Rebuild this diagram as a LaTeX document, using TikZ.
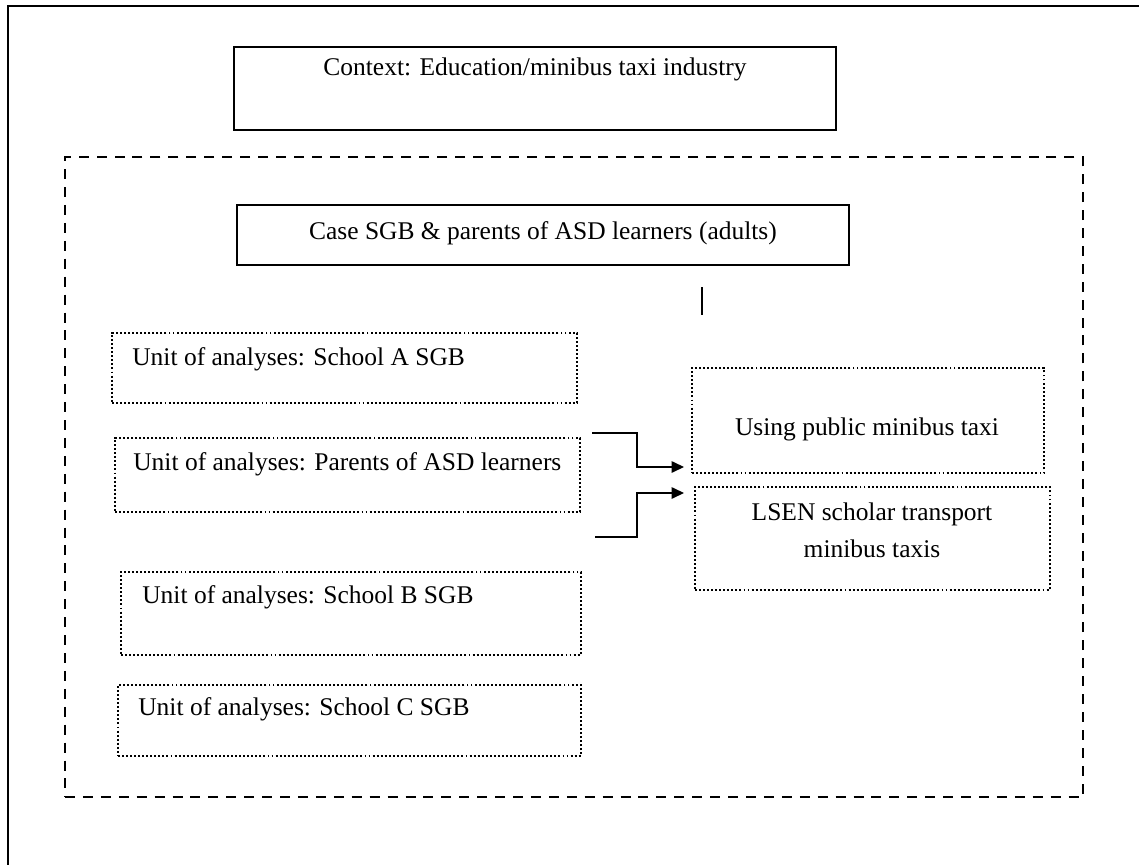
\documentclass[tikz,border=0pt]{standalone}
\usepackage{fontspec}
\setmainfont{Liberation Serif}
\usetikzlibrary{fit,arrows.meta}

\tikzset{
  solidbox/.style={draw, line width=1.3pt, inner sep=0pt},
  dashbox/.style={draw, line width=1.2pt, dash pattern=on 5.7pt off 4.5pt, inner sep=0pt},
  dotbox/.style={draw, line width=1.2pt, dash pattern=on 1.1pt off 1.2pt, inner sep=0pt},
  txt/.style={inner sep=0pt, font=\fontsize{14.5}{21}\selectfont},
  link/.style={line width=0.7pt},
  arrowlink/.style={link, -{Triangle[length=7pt,width=6.5pt]}},
}

\begin{document}
\begin{tikzpicture}[x=0.02cm, y=-0.02cm]
  \useasboundingbox (0,0) rectangle (1139,865);

  % page frame (top and left edges)
  \coordinate (frameBL) at (8,866);
  \coordinate (frameTL) at (8,6);
  \coordinate (frameTR) at (1140,6);
  \draw[line width=1.3pt] (frameBL) -- (frameTL) -- (frameTR);

  % context
  \node[solidbox, fit={(234,47) (836,130)}] (ctx) {};
  \node[txt, anchor=base] (ctxtext) at (535,76) {Context: Education/minibus taxi industry};

  % case boundary
  \node[dashbox, fit={(65,157) (1083,797)}] (bound) {};

  \node[solidbox, fit={(237,205) (849,265)}] (case) {};
  \node[txt, anchor=base] (casetext) at (543,239) {Case SGB \& parents of ASD learners (adults)};

  \coordinate (tickTop) at (702,287);
  \coordinate (tickBot) at (702,315);
  \draw[link] (tickTop) -- (tickBot);

  % units of analysis
  \node[dotbox, fit={(112,333) (577,403)}] (unitA) {};
  \node[txt, anchor=base west] (unitAtext) at (132,365) {Unit of analyses: School A SGB};

  \node[dotbox, fit={(115,438) (580,512)}] (unitP) {};
  \node[txt, anchor=base west] (unitPtext) at (133,470) {Unit of analyses: Parents of ASD learners};

  \node[dotbox, fit={(121,572) (581,655)}] (unitB) {};
  \node[txt, anchor=base west] (unitBtext) at (142,603) {Unit of analyses: School B SGB};

  \node[dotbox, fit={(118,685) (581,756)}] (unitC) {};
  \node[txt, anchor=base west] (unitCtext) at (138,715) {Unit of analyses: School C SGB};

  % transport modes
  \node[dotbox, fit={(692,368) (1044,473)}] (public) {};
  \node[txt, anchor=base] (publictext) at (867,435) {Using public minibus taxi};

  \node[dotbox, fit={(695,487) (1050,590)}] (lsen) {};
  \node[txt, anchor=base, align=center] (lsentext) at (872,557) {LSEN scholar transport\\minibus taxis};

  % connectors
  \coordinate (upStart) at (592,433);
  \coordinate (upEnd) at (684,467);
  \coordinate (lowStart) at (595,537);
  \coordinate (lowEnd) at (684,493);
  \draw[arrowlink] (upStart) -- (637,433) |- (upEnd);
  \draw[arrowlink] (lowStart) -- (637,537) |- (lowEnd);
\end{tikzpicture}
\end{document}
